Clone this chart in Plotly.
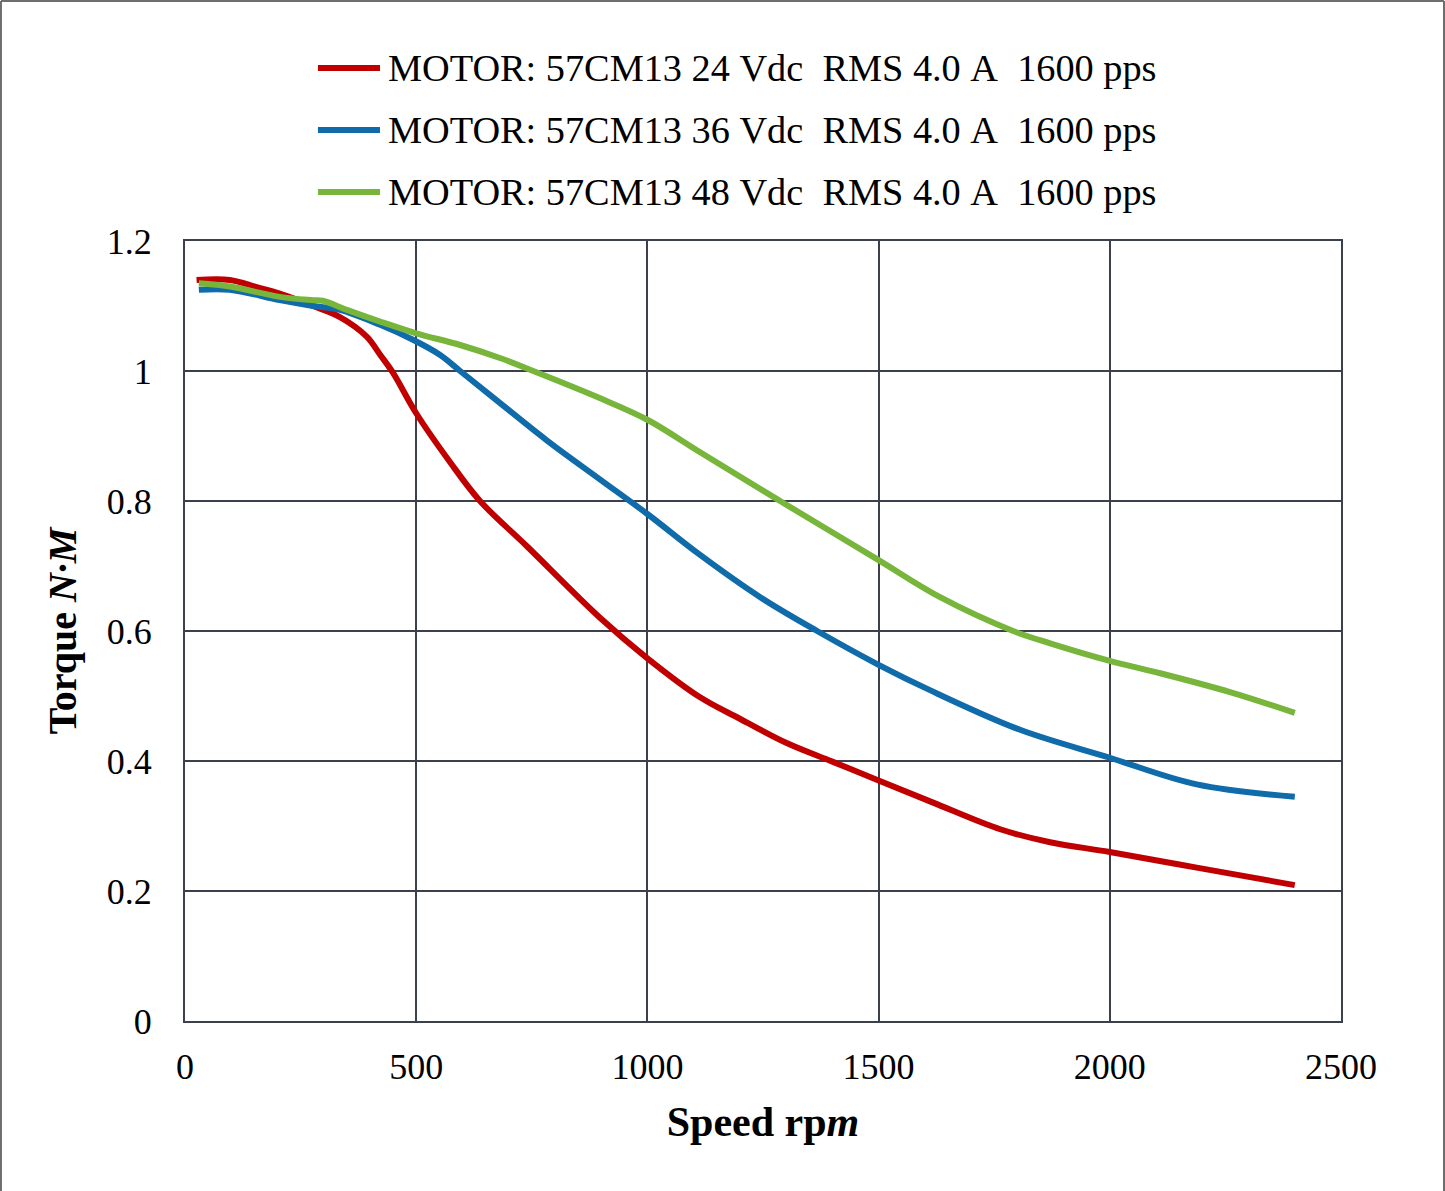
import plotly.graph_objects as go

# ---- data ----
series_names = [
    "MOTOR:\u00a057CM13\u00a024\u00a0Vdc\u00a0\u00a0RMS\u00a04.0\u00a0A\u00a0\u00a01600\u00a0pps",
    "MOTOR:\u00a057CM13\u00a036\u00a0Vdc\u00a0\u00a0RMS\u00a04.0\u00a0A\u00a0\u00a01600\u00a0pps",
    "MOTOR:\u00a057CM13\u00a048\u00a0Vdc\u00a0\u00a0RMS\u00a04.0\u00a0A\u00a0\u00a01600\u00a0pps",
]
series_colors = ["#C00000", "#0F6BAA", "#77B53B"]

speed_24 = [25, 97, 155, 205, 277, 335, 393, 422, 450, 500, 573, 638, 740, 898, 1000,
            1114, 1200, 1300, 1400, 1500, 1618, 1763, 1871, 2000, 2188, 2400]
torque_24 = [1.14, 1.14, 1.129, 1.119, 1.10, 1.083, 1.053, 1.025, 0.997, 0.935, 0.86, 0.80,
             0.73, 0.62, 0.558, 0.498, 0.465, 0.428, 0.399, 0.37, 0.336, 0.295, 0.275, 0.26,
             0.236, 0.209]

speed_36 = [30, 97, 205, 277, 335, 422, 493, 551, 595, 660, 783, 898, 1000, 1114, 1244,
            1367, 1500, 1611, 1806, 2000, 2188, 2400]
torque_36 = [1.125, 1.125, 1.109, 1.10, 1.094, 1.071, 1.048, 1.025, 1.0, 0.963, 0.893, 0.833,
             0.78, 0.717, 0.652, 0.60, 0.548, 0.509, 0.448, 0.405, 0.364, 0.345]

speed_48 = [30, 97, 205, 277, 298, 350, 422, 500, 595, 681, 753, 898, 1000, 1114, 1287,
            1500, 1633, 1791, 1871, 2000, 2109, 2260, 2400]
torque_48 = [1.135, 1.13, 1.114, 1.109, 1.108, 1.094, 1.076, 1.058, 1.04, 1.02, 1.0, 0.958,
             0.925, 0.875, 0.80, 0.709, 0.652, 0.60, 0.581, 0.554, 0.535, 0.506, 0.474]

x_ticks = [0, 500, 1000, 1500, 2000, 2500]
y_ticks = [0, 0.2, 0.4, 0.6, 0.8, 1.0, 1.2]
y_tick_text = ["0", "0.2", "0.4", "0.6", "0.8", "1", "1.2"]

speeds = [speed_24, speed_36, speed_48]
torques = [torque_24, torque_36, torque_48]

FONT = "Liberation Serif, Times New Roman, serif"
GRID = "#3C3F4C"

fig = go.Figure()
for name, col, xs, ys in zip(series_names, series_colors, speeds, torques):
    fig.add_trace(go.Scatter(
        x=xs, y=ys, mode="lines", name=name,
        line=dict(color=col, width=6, shape="spline", smoothing=1.0),
        showlegend=False,
    ))

# manual legend (line sample + text) for exact layout
legend_y = [1.2218, 1.1423, 1.0628]
shapes = []
annotations = []
for name, col, ly in zip(series_names, series_colors, legend_y):
    shapes.append(dict(type="line", xref="paper", yref="paper",
                       x0=0.115, x1=0.1687, y0=ly, y1=ly,
                       line=dict(color=col, width=6)))
    annotations.append(dict(xref="paper", yref="paper", x=0.1735, y=ly,
                            text=name, showarrow=False, xanchor="left", yanchor="middle",
                            font=dict(family=FONT, size=38.3, color="#000000")))

# image frame (left, top, right)
frame_col = "#6E6E6E"
shapes.append(dict(type="line", xref="paper", yref="paper", x0=-0.1592, x1=-0.1592,
                   y0=-0.22, y1=1.3077, line=dict(color=frame_col, width=2)))
shapes.append(dict(type="line", xref="paper", yref="paper", x0=-0.1592, x1=1.0891,
                   y0=1.3077, y1=1.3077, line=dict(color=frame_col, width=2)))
shapes.append(dict(type="line", xref="paper", yref="paper", x0=1.0891, x1=1.0891,
                   y0=-0.22, y1=1.3077, line=dict(color=frame_col, width=2)))

fig.update_layout(
    width=1445, height=1191,
    margin=dict(l=185, r=104, t=241, b=170),
    paper_bgcolor="white", plot_bgcolor="white",
    font=dict(family=FONT, color="#000000"),
    shapes=shapes, annotations=annotations,
    xaxis=dict(
        range=[0, 2500], tickvals=x_ticks, ticktext=[str(v) for v in x_ticks],
        showgrid=True, gridcolor=GRID, gridwidth=2,
        showline=True, linecolor=GRID, linewidth=2, mirror=True,
        zeroline=False, ticks="", ticklabelstandoff=13,
        tickfont=dict(family=FONT, size=36, color="#000000"),
        title=dict(text="<b>Speed rp<i>m</i></b>", standoff=20,
                   font=dict(family=FONT, size=42, color="#000000")),
    ),
    yaxis=dict(
        range=[0, 1.2], tickvals=y_ticks, ticktext=y_tick_text,
        showgrid=True, gridcolor=GRID, gridwidth=2,
        showline=True, linecolor=GRID, linewidth=2, mirror=True,
        zeroline=False, ticks="", ticklabelstandoff=24,
        tickfont=dict(family=FONT, size=36, color="#000000"),
        title=dict(text="<b>Torque <i>N·M</i></b>", standoff=18,
                   font=dict(family=FONT, size=40, color="#000000")),
    ),
)

fig.write_html("out.html")
